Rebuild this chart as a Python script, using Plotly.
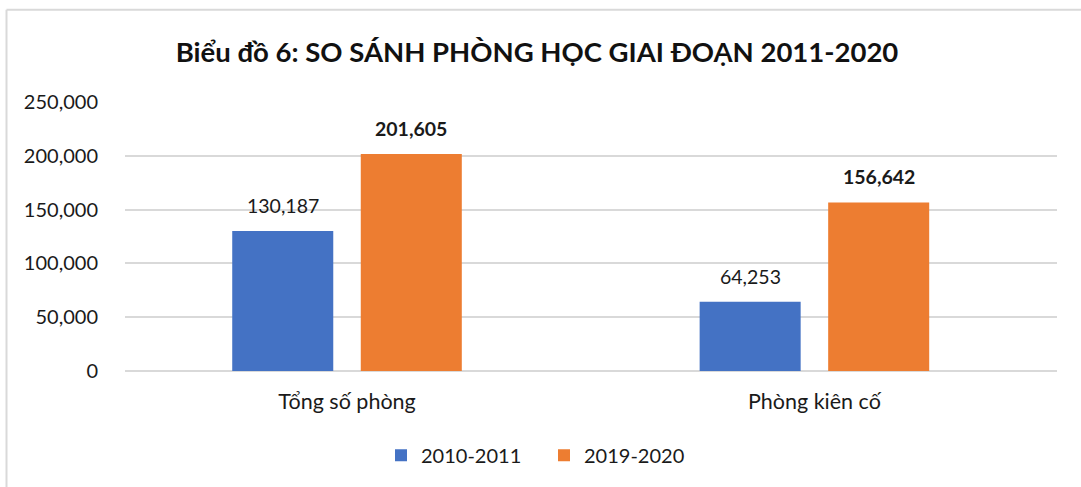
import plotly.graph_objects as go

categories = ["Tổng số phòng", "Phòng kiên cố"]
series_names = ["2010-2011", "2019-2020"]
values_2010_2011 = [130187, 64253]
values_2019_2020 = [201605, 156642]
y_tick_values = [0, 50000, 100000, 150000, 200000, 250000]
y_tick_labels = ["0", "50,000", "100,000", "150,000", "200,000", "250,000"]
title_text = "Biểu đồ 6: SO SÁNH PHÒNG HỌC GIAI ĐOẠN 2011-2020"

FONT = "Lato"
TXT = "#1a1a1a"
W, H = 1081, 487
ML, MR, MT, MB = 125, 24, 101.7, 116.3
BARGAP = 0.45
BARGROUPGAP = 0.214

fig = go.Figure()
fig.add_trace(go.Bar(
    x=categories, y=values_2010_2011, name=series_names[0],
    marker=dict(color="#4472C4", line=dict(width=0)),
))
fig.add_trace(go.Bar(
    x=categories, y=values_2019_2020, name=series_names[1],
    marker=dict(color="#ED7D31", line=dict(width=0)),
))

# data labels as annotations above each bar (centre of each bar slot)
slot = (1 - BARGAP) / 2
annotations = []
for i, v in enumerate(values_2010_2011):
    annotations.append(dict(x=i - slot / 2, y=v, xref="x", yref="y", text=f"{v:,}",
                            showarrow=False, yanchor="bottom", yshift=12,
                            font=dict(family=FONT, size=19.5, color=TXT)))
for i, v in enumerate(values_2019_2020):
    annotations.append(dict(x=i + slot / 2, y=v, xref="x", yref="y", text=f"<b>{v:,}</b>",
                            showarrow=False, yanchor="bottom", yshift=12,
                            font=dict(family=FONT, size=19.5, color=TXT)))

plot_w = W - ML - MR
plot_h = H - MT - MB
bx = (6.5 - ML) / plot_w
by = (H - MB - 9.5) / plot_h

fig.update_layout(
    width=W, height=H,
    margin=dict(l=ML, r=MR, t=MT, b=MB, pad=0, autoexpand=False),
    paper_bgcolor="white", plot_bgcolor="white",
    barmode="group", bargap=BARGAP, bargroupgap=BARGROUPGAP,
    font=dict(family=FONT, size=19, color=TXT),
    title=dict(text=f"<b>{title_text}</b>", x=537 / W, xanchor="center",
               y=1 - 52.5 / H, yanchor="middle",
               font=dict(family=FONT, size=27.5, color="#111111")),
    showlegend=True,
    legend=dict(orientation="h", x=(544 - ML) / plot_w, xanchor="center",
                y=(H - MB - 455) / plot_h, yanchor="middle",
                font=dict(family=FONT, size=20, color=TXT),
                itemwidth=30, entrywidth=118, tracegroupgap=0,
                bgcolor="rgba(0,0,0,0)"),
    annotations=annotations,
    shapes=[
        dict(type="line", xref="paper", yref="paper", x0=bx, x1=bx, y0=-0.6, y1=by,
             line=dict(color="#D9D9D9", width=2), layer="below"),
        dict(type="line", xref="paper", yref="paper", x0=bx, x1=1.2, y0=by, y1=by,
             line=dict(color="#D9D9D9", width=2), layer="below"),
    ],
)
fig.update_xaxes(
    type="category", range=[-0.475, 1.519],
    showgrid=False, showline=False, ticks="", zeroline=False,
    tickfont=dict(family=FONT, size=21.5, color=TXT), ticklabelstandoff=15,
)
fig.update_yaxes(
    range=[0, 250000], tickvals=y_tick_values, ticktext=y_tick_labels,
    showgrid=True, gridcolor="#D9D9D9", gridwidth=1.5,
    zeroline=True, zerolinecolor="#D9D9D9", zerolinewidth=1.5,
    showline=False, ticks="", ticklabelstandoff=26,
    tickfont=dict(family=FONT, size=20, color=TXT),
)

fig.write_html("out.html", config={"displayModeBar": False},
               post_script="document.body.style.margin='0';document.body.style.overflow='hidden';")
